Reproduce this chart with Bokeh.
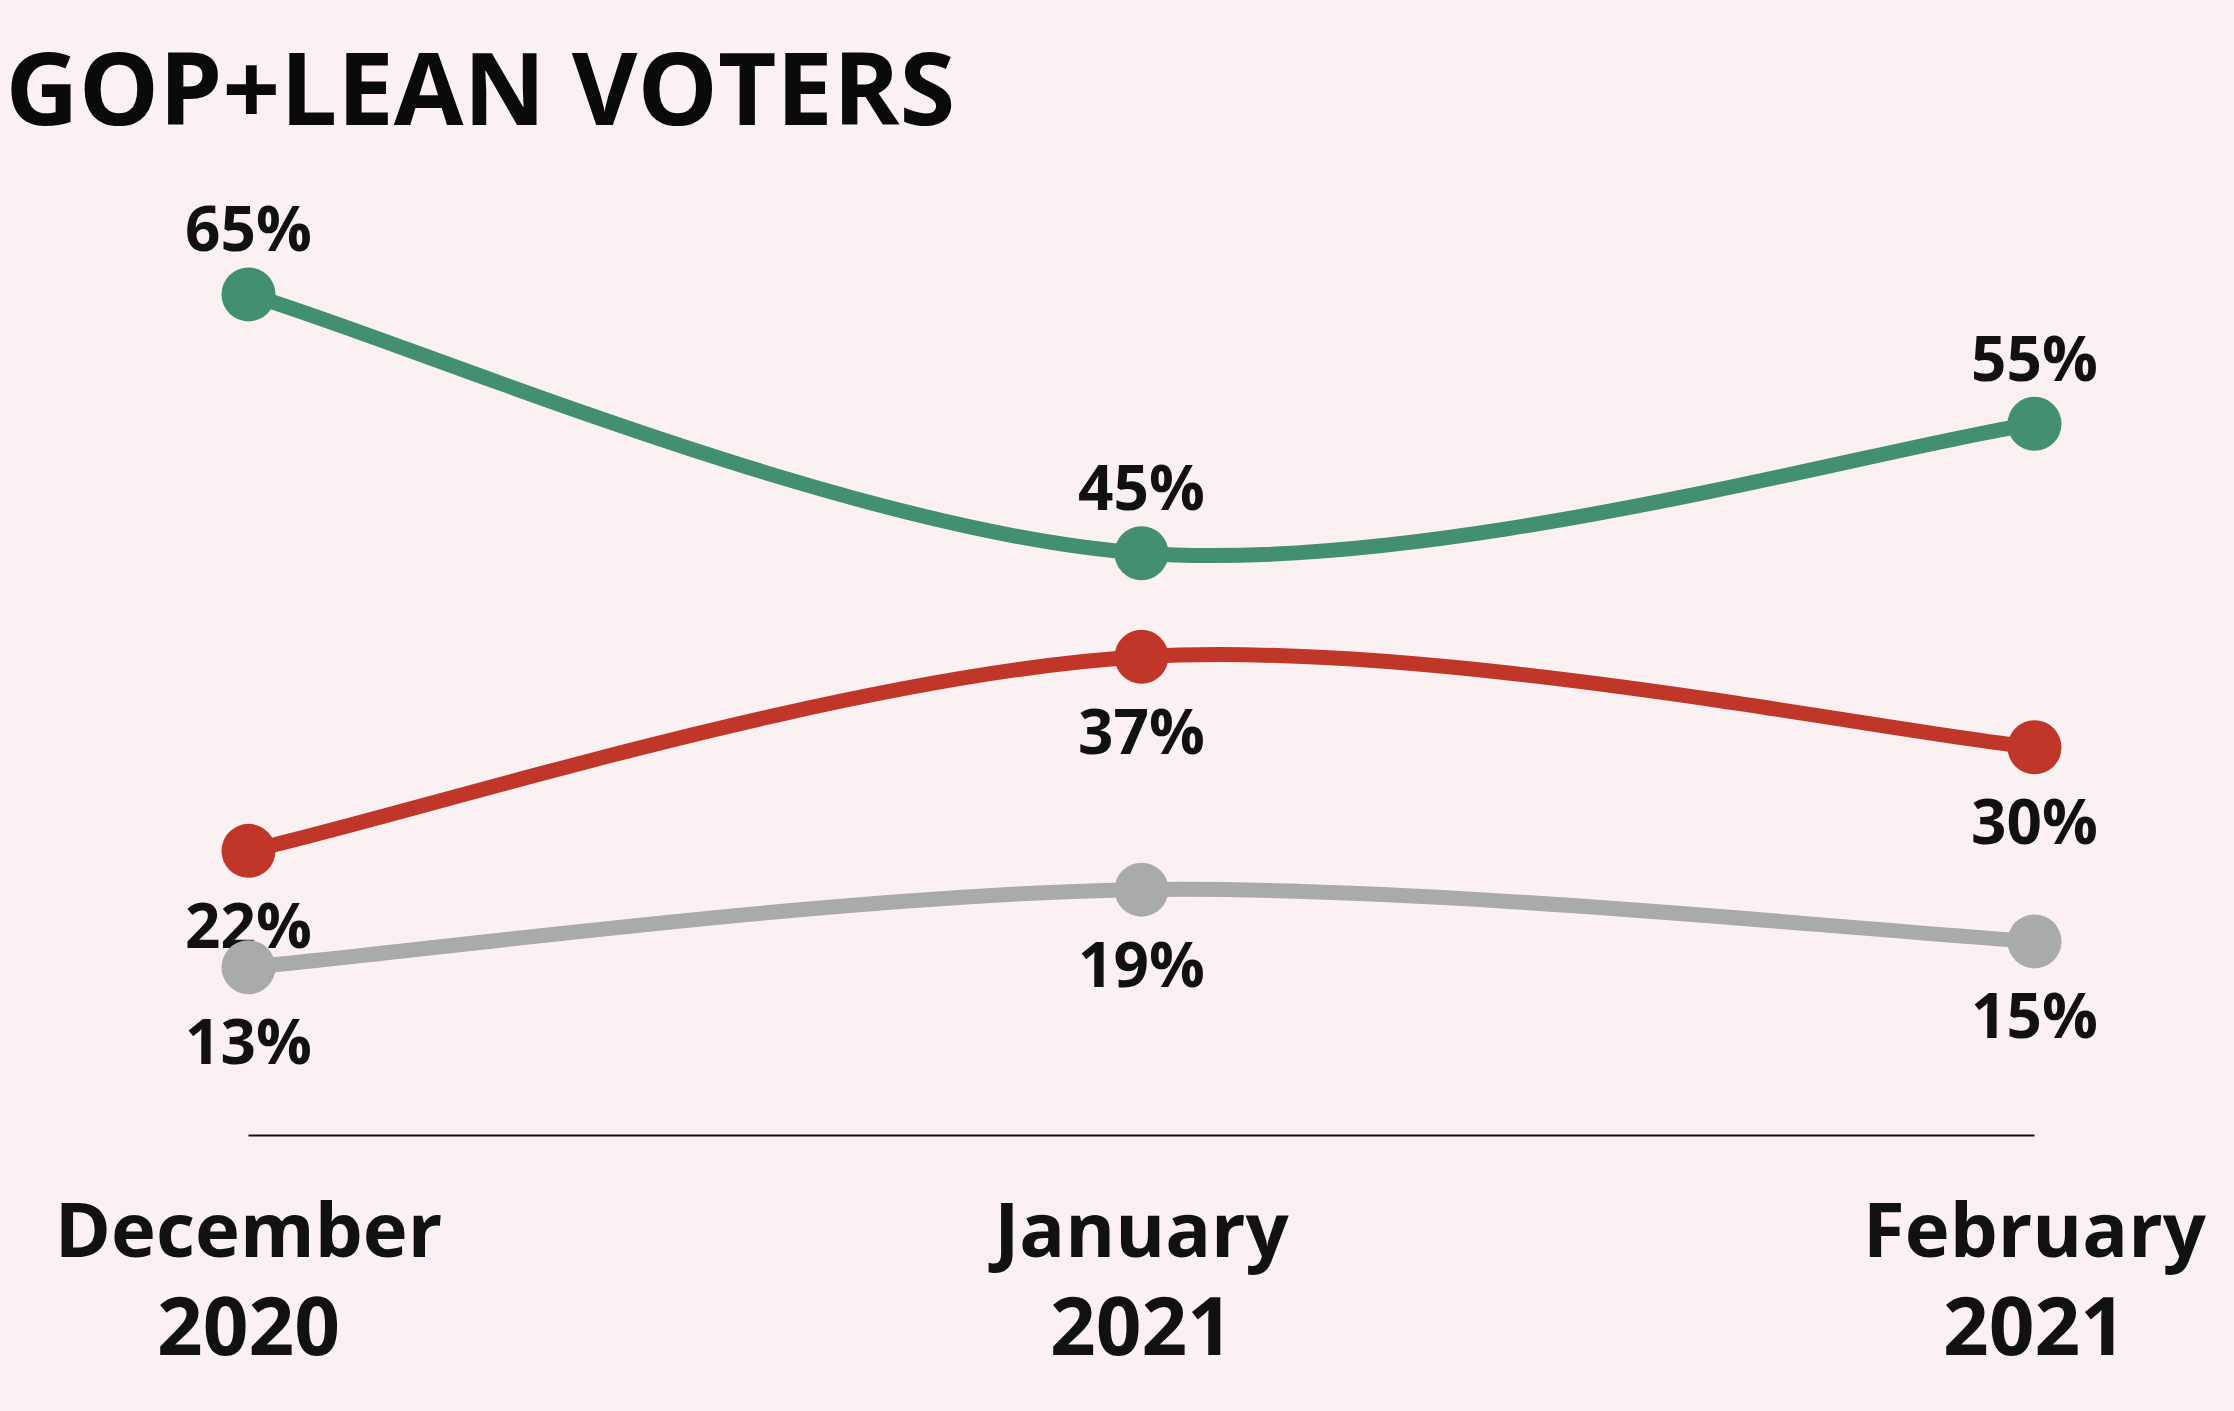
from bokeh.plotting import figure
from bokeh.models import Range1d
from bokeh.core.properties import value
from bokeh.embed import file_html
from bokeh.resources import INLINE

# ---- data ----
months = ["December", "January", "February"]
years = ["2020", "2021", "2021"]
green_vals = [65, 45, 55]
red_vals = [22, 37, 30]
gray_vals = [13, 19, 15]
title_text = "GOP+LEAN VOTERS"

series = [
    (green_vals, "#42906f", "above"),
    (red_vals, "#c0372a", "below"),
    (gray_vals, "#a8aba7", "below"),
]

BG = "#fcf1f2"
FONT = "Open Sans"
W, H = 2234, 1411

# pixel mapping helpers (layout only)
X0_PX, PX_PER_X = 248.0, 893.0
Y0_PX, PX_PER_Y = 1135.0, 12.94


def dx(px):
    return (px - X0_PX) / PX_PER_X


def dy(py):
    return (Y0_PX - py) / PX_PER_Y


p = figure(width=W, height=H, output_backend="svg", toolbar_location=None,
           x_range=Range1d(dx(0), dx(W)), y_range=Range1d(dy(H), dy(0)),
           min_border=0)
p.background_fill_color = BG
p.border_fill_color = BG
p.outline_line_color = None
p.axis.visible = False
p.grid.visible = False


def cardinal_segments(xs, ys):
    """Bezier control points of a Catmull-Rom (cardinal, tension 0) curve."""
    n = len(xs)
    seg = dict(x0=[], y0=[], x1=[], y1=[], cx0=[], cy0=[], cx1=[], cy1=[])
    for i in range(n - 1):
        i0 = max(i - 1, 0)
        i3 = min(i + 2, n - 1)
        seg["x0"].append(xs[i]); seg["y0"].append(ys[i])
        seg["x1"].append(xs[i + 1]); seg["y1"].append(ys[i + 1])
        seg["cx0"].append(xs[i] + (xs[i + 1] - xs[i0]) / 6)
        seg["cy0"].append(ys[i] + (ys[i + 1] - ys[i0]) / 6)
        seg["cx1"].append(xs[i + 1] - (xs[i3] - xs[i]) / 6)
        seg["cy1"].append(ys[i + 1] - (ys[i3] - ys[i]) / 6)
    return seg


xs = list(range(len(months)))

# baseline
p.line(x=[xs[0], xs[-1]], y=[0, 0], line_color="#111111", line_width=2)

for vals, color, pos in series:
    seg = cardinal_segments(xs, vals)
    p.bezier(line_color=color, line_width=15, line_cap="round", **seg)

for vals, color, pos in series:
    p.scatter(x=xs, y=vals, size=54, fill_color=color, line_color=None)
    labels = [f"{v}%" for v in vals]
    p.text(x=xs, y=vals, text=labels, text_font=value(FONT), text_font_style="bold",
           text_font_size="62px", text_color="#111111", text_align="center",
           text_baseline="alphabetic", y_offset=(-67 if pos == "above" else 73))

# x category labels
p.text(x=xs, y=[0] * len(xs), text=months, text_font=value(FONT), text_font_style="bold",
       text_font_size="76px", text_color="#111111", text_align="center",
       text_baseline="alphabetic", y_offset=92)
p.text(x=xs, y=[0] * len(xs), text=years, text_font=value(FONT), text_font_style="bold",
       text_font_size="80px", text_color="#111111", text_align="center",
       text_baseline="alphabetic", y_offset=190)

# title (avoid sizes like 100px, which the svg font parser reads as a weight)
p.text(x=[dx(5)], y=[dy(85)], text=[title_text], text_font=value(FONT),
       text_font_style="bold", text_font_size="101px", text_color="#0a0a0a",
       text_align="left", text_baseline="alphabetic")

html = file_html(p, INLINE)
html = html.replace("<head>", "<head><style>html,body{background:%s;}</style>" % BG, 1)
open("out.html", "w").write(html)
